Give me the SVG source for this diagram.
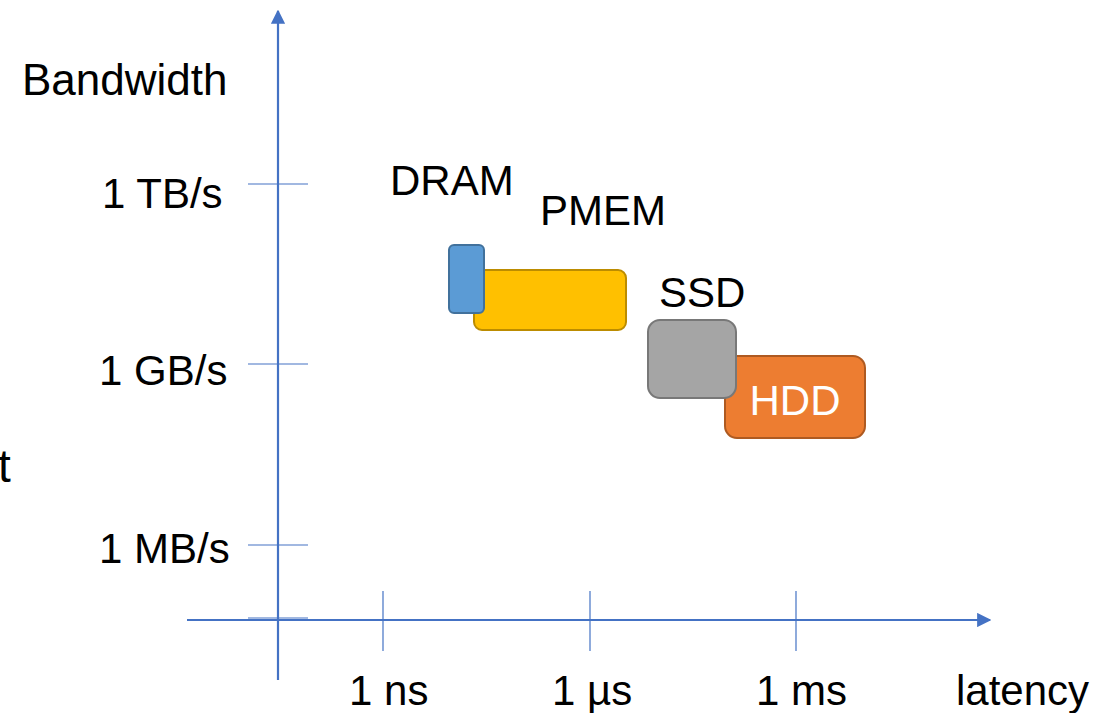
<svg xmlns="http://www.w3.org/2000/svg" width="1111" height="713" viewBox="0 0 1111 713">
<style>
text{font-family:"Liberation Sans",Arial,sans-serif;font-size:42px;fill:#000}
.axis{stroke:#4472C4;stroke-width:2.2;fill:none}
.tick{stroke:#4472C4;stroke-width:1.2;fill:none}
</style>
<defs>
<marker id="arr" viewBox="0 0 10 10" refX="9" refY="5" markerWidth="6.5" markerHeight="6.5" markerUnits="strokeWidth" orient="auto">
<path d="M0,0 L10,5 L0,10 z" fill="#4472C4"/>
</marker>
</defs>
<g id="axes">
<line class="axis" x1="278" y1="680" x2="278" y2="11" marker-end="url(#arr)"/>
<line class="axis" x1="187" y1="620" x2="990" y2="620" marker-end="url(#arr)"/>
<line class="tick" x1="248" y1="184" x2="308" y2="184"/>
<line class="tick" x1="248" y1="364" x2="308" y2="364"/>
<line class="tick" x1="248" y1="545" x2="308" y2="545"/>
<line class="tick" x1="248" y1="618" x2="308" y2="618"/>
<line class="tick" x1="383" y1="591" x2="383" y2="651"/>
<line class="tick" x1="590" y1="591" x2="590" y2="651"/>
<line class="tick" x1="796" y1="591" x2="796" y2="651"/>
</g>
<g id="labels">
<text x="22" y="95" style="font-size:44px">Bandwidth</text>
<text x="-2" y="482" style="font-size:46px">t</text>
<text x="102" y="208">1 TB/s</text>
<text x="99" y="385">1 GB/s</text>
<text x="99" y="563">1 MB/s</text>
<text x="349" y="705">1 ns</text>
<text x="552" y="705">1 µs</text>
<text x="756" y="705">1 ms</text>
<text x="956" y="705">latency</text>
</g>
<g id="pmem">
<rect x="474" y="270" width="152" height="60" rx="8" fill="#FFC000" stroke="#BC8C00" stroke-width="2"/>
<text x="540" y="225">PMEM</text>
</g>
<g id="dram">
<rect x="449" y="245" width="35" height="68" rx="5" fill="#5B9BD5" stroke="#41719C" stroke-width="2"/>
<text x="390" y="195">DRAM</text>
</g>
<g id="hdd">
<rect x="725" y="356" width="140" height="82" rx="12" fill="#ED7D31" stroke="#AE5A21" stroke-width="2"/>
<text x="795" y="415" text-anchor="middle" style="fill:#fff">HDD</text>
</g>
<g id="ssd">
<rect x="648" y="320" width="88" height="78" rx="12" fill="#A5A5A5" stroke="#787878" stroke-width="2"/>
<text x="659" y="307">SSD</text>
</g>
</svg>
